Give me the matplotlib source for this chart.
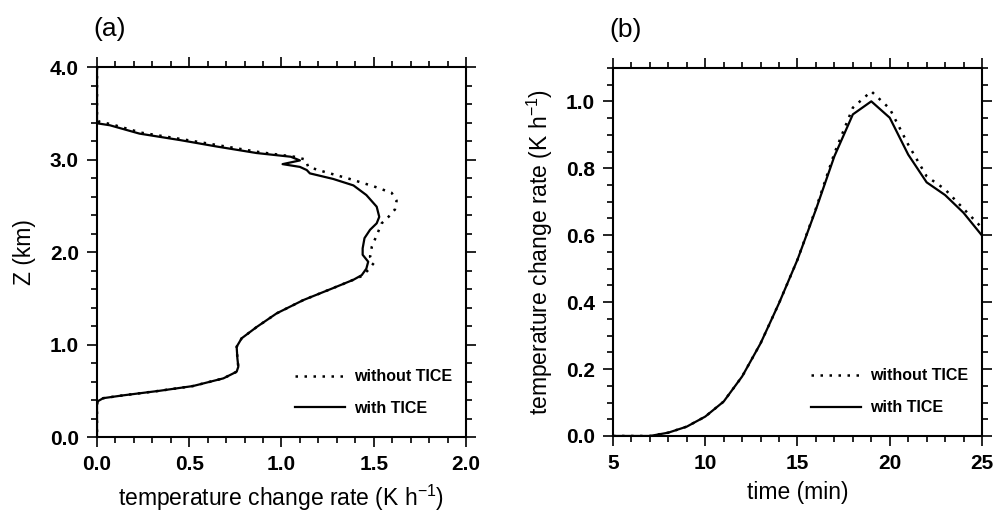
import numpy as np
import matplotlib
matplotlib.use("Agg")
import matplotlib.pyplot as plt
from matplotlib.ticker import MultipleLocator

plt.rcParams["font.family"] = ["Liberation Sans", "DejaVu Sans"]
plt.rcParams["mathtext.fontset"] = "custom"
plt.rcParams["mathtext.rm"] = "Liberation Sans"

# (a) Profil: Z (km) gegen Heizrate (K/h)
z_with = [4.0, 3.43, 3.39, 3.37, 3.28, 3.21, 3.14, 3.07, 3.03, 2.99, 2.95, 2.92, 2.886,
          2.85, 2.79, 2.72, 2.616, 2.49, 2.38, 2.31, 2.24, 2.15, 2.04, 1.97, 1.895,
          1.82, 1.75, 1.70, 1.61, 1.48, 1.337, 1.19, 1.067, 0.976, 0.85, 0.76, 0.706,
          0.634, 0.551, 0.50, 0.45, 0.42, 0.39, 0.36, 0.0]
r_with = [0.0, 0.0, 0.005, 0.07, 0.23, 0.45, 0.65, 0.865, 1.05, 1.10, 1.006, 1.10, 1.137,
          1.154, 1.28, 1.39, 1.46, 1.516, 1.53, 1.516, 1.48, 1.45, 1.44, 1.44, 1.47,
          1.46, 1.435, 1.39, 1.28, 1.118, 0.974, 0.866, 0.784, 0.757, 0.761, 0.766, 0.757,
          0.685, 0.52, 0.34, 0.14, 0.034, 0.007, 0.0, 0.0]

z_without = [4.0, 3.45, 3.41, 3.38, 3.29, 3.22, 3.15, 3.08, 3.03, 3.0, 2.92, 2.87, 2.79,
             2.71, 2.64, 2.555, 2.46, 2.38, 2.31, 2.18, 2.06, 1.95, 1.88, 1.805, 1.74,
             1.70, 1.61, 1.48, 1.337, 1.19, 1.067, 0.976, 0.85, 0.76, 0.706, 0.634,
             0.551, 0.50, 0.45, 0.42, 0.39, 0.36, 0.0]
r_without = [0.0, 0.0, 0.01, 0.08, 0.24, 0.46, 0.67, 0.88, 1.07, 1.13, 1.145, 1.227, 1.37,
             1.50, 1.597, 1.624, 1.615, 1.58, 1.543, 1.516, 1.49, 1.48, 1.50, 1.47, 1.435,
             1.39, 1.28, 1.118, 0.974, 0.866, 0.784, 0.757, 0.761, 0.766, 0.757, 0.685,
             0.52, 0.34, 0.14, 0.034, 0.007, 0.0, 0.0]

# (b) Zeitreihe
zeit = list(range(5, 26))
rate_with = [0.0, 0.0, 0.0, 0.01, 0.028, 0.058, 0.103, 0.178, 0.277, 0.397, 0.527,
             0.677, 0.836, 0.961, 1.0, 0.951, 0.841, 0.758, 0.72, 0.667, 0.599]
rate_without = [0.0, 0.0, 0.0, 0.01, 0.028, 0.058, 0.103, 0.178, 0.277, 0.397, 0.527,
                0.680, 0.845, 0.981, 1.03, 0.978, 0.871, 0.776, 0.737, 0.679, 0.622]

dot = (0, (1.0, 2.6))
lw = 1.6
label_k = "temperature change rate (K h$^{\\mathregular{-1}}$)"

fig = plt.figure(figsize=(10.01, 5.17), dpi=100)
ax1 = fig.add_axes([0.0969, 0.1547, 0.3686, 0.7157])
ax2 = fig.add_axes([0.6124, 0.1567, 0.3686, 0.7120])

ax1.plot(r_without, z_without, color="black", lw=lw + 0.2, linestyle=dot, label="without TICE")
ax1.plot(r_with, z_with, color="black", lw=lw, label="with TICE")
ax1.set_xlim(0, 2.0)
ax1.set_ylim(0, 4.0)
ax1.xaxis.set_major_locator(MultipleLocator(0.5))
ax1.xaxis.set_minor_locator(MultipleLocator(0.1))
ax1.yaxis.set_major_locator(MultipleLocator(1.0))
ax1.yaxis.set_minor_locator(MultipleLocator(0.2))
ax1.xaxis.set_major_formatter(lambda v, p: f"{v:.1f}")
ax1.yaxis.set_major_formatter(lambda v, p: f"{v:.1f}")
ax1.set_xlabel(label_k, fontsize=16.5, labelpad=6)
ax1.set_ylabel("Z (km)", fontsize=16.5, labelpad=10)
ax1.set_title("(a)", loc="left", fontsize=19, pad=22, x=-0.01)

ax2.plot(zeit, rate_without, color="black", lw=lw + 0.2, linestyle=dot, label="without TICE")
ax2.plot(zeit, rate_with, color="black", lw=lw, label="with TICE")
ax2.set_xlim(5, 25)
ax2.set_ylim(0, 1.1)
ax2.xaxis.set_major_locator(MultipleLocator(5))
ax2.xaxis.set_minor_locator(MultipleLocator(1))
ax2.yaxis.set_major_locator(MultipleLocator(0.2))
ax2.yaxis.set_minor_locator(MultipleLocator(0.05))
ax2.yaxis.set_major_formatter(lambda v, p: f"{v:.1f}")
ax2.set_xlabel("time (min)", fontsize=16.5, labelpad=6)
ax2.set_ylabel(label_k, fontsize=16.5, labelpad=8)
ax2.set_title("(b)", loc="left", fontsize=19, pad=22, x=-0.01)

for ax in (ax1, ax2):
    for s in ax.spines.values():
        s.set_linewidth(1.5)
    ax.tick_params(which="both", direction="out", top=True, right=True,
                   labeltop=False, labelright=False, width=1.2)
    ax.tick_params(which="major", length=7, labelsize=15, pad=6)
    ax.tick_params(which="minor", length=4)
    for t in ax.get_xticklabels() + ax.get_yticklabels():
        t.set_fontweight("bold")
    ax.legend(loc="center left", bbox_to_anchor=(0.537, 0.12), frameon=False,
              borderpad=0, borderaxespad=0,
              prop={"size": 11.5, "weight": "bold"}, handlelength=3.1,
              labelspacing=1.05, handletextpad=0.6)

fig.savefig("out.png", dpi=100)
